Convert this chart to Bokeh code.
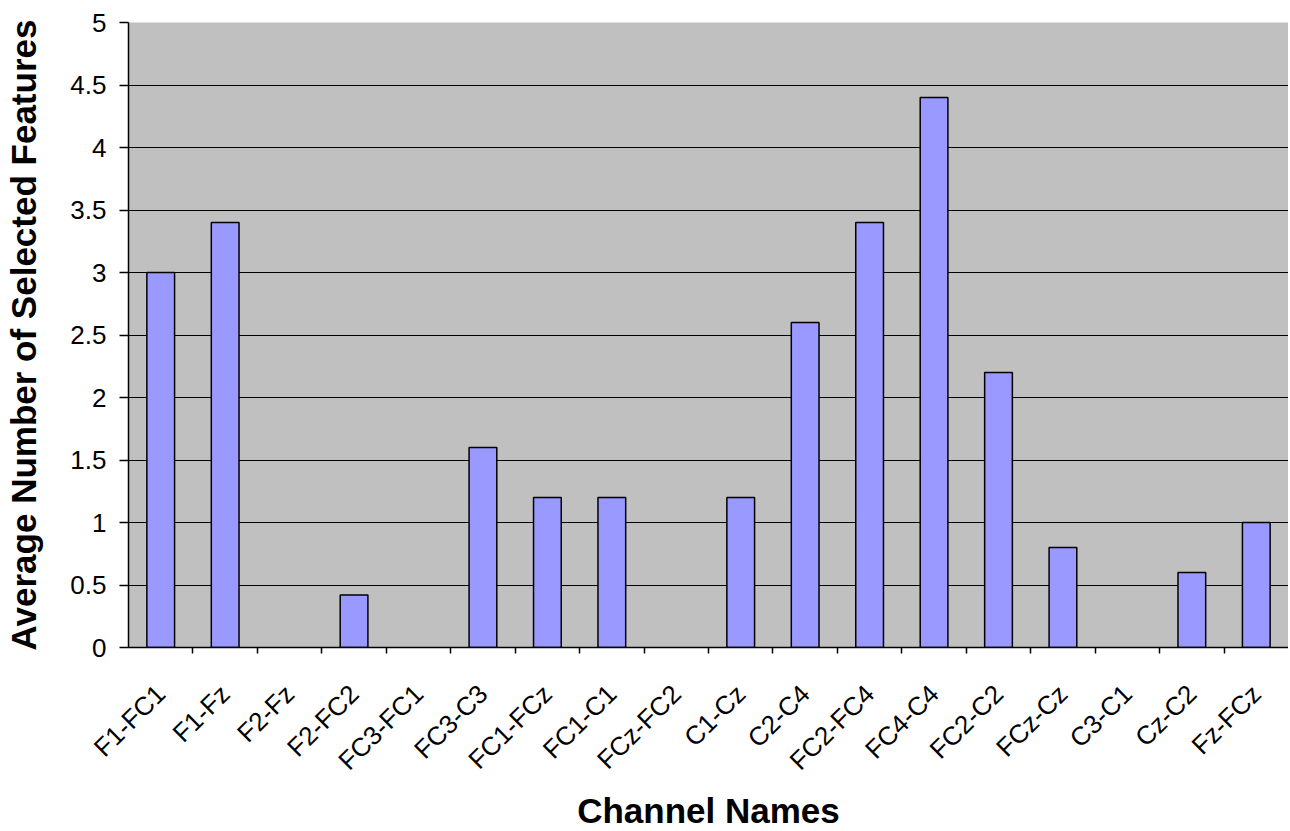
import math
from bokeh.plotting import figure
from bokeh.models import (ColumnDataSource, FactorRange, Range1d,
                          CDSView, BooleanFilter, CategoricalAxis, FixedTicker)
from bokeh.embed import file_html
from bokeh.resources import INLINE

channels = ["F1-FC1", "F1-Fz", "F2-Fz", "F2-FC2", "FC3-FC1", "FC3-C3", "FC1-FCz",
            "FC1-C1", "FCz-FC2", "C1-Cz", "C2-C4", "FC2-FC4", "FC4-C4", "FC2-C2",
            "FCz-Cz", "C3-C1", "Cz-C2", "Fz-FCz"]
avg_features = [3.0, 3.4, 0.0, 0.42, 0.0, 1.6, 1.2, 1.2, 0.0, 1.2, 2.6, 3.4, 4.4,
                2.2, 0.8, 0.0, 0.6, 1.0]
y_ticks = [0, 0.5, 1, 1.5, 2, 2.5, 3, 3.5, 4, 4.5, 5]

src = ColumnDataSource(dict(x=channels, top=avg_features))
view = CDSView(filter=BooleanFilter([v > 0 for v in avg_features]))

p = figure(x_range=FactorRange(*channels, range_padding=0), y_range=Range1d(0, 5),
           frame_width=1160, frame_height=625, output_backend="svg", toolbar_location=None,
           x_axis_location=None,
           min_border_left=128, min_border_top=22, min_border_right=0, min_border_bottom=0)

# boundaries between categories: n+1 factors whose centres fall on the category edges
bounds = ["b%d" % i for i in range(len(channels) + 1)]
p.extra_x_ranges = {"bounds": FactorRange(*bounds, range_padding=-0.5,
                                          range_padding_units="absolute")}

p.vbar(x="x", top="top", width=0.43, source=src, view=view, fill_color="#9999FF",
       line_color="black", line_width=1.5)

p.background_fill_color = "#C0C0C0"
p.border_fill_color = "white"
p.outline_line_color = None

p.xgrid.grid_line_color = None
p.ygrid.grid_line_color = "black"
p.ygrid.grid_line_width = 1.2
p.yaxis.ticker = FixedTicker(ticks=y_ticks)

# tick-only axis: ticks at category boundaries
tick_axis = CategoricalAxis(x_range_name="bounds")
tick_axis.axis_line_color = "black"
tick_axis.axis_line_width = 1.5
tick_axis.major_tick_line_color = "black"
tick_axis.major_tick_line_width = 1.5
tick_axis.major_tick_out = 6
tick_axis.major_tick_in = 0
tick_axis.minor_tick_line_color = None
tick_axis.major_label_text_font_size = "0px"
tick_axis.major_label_text_color = None
tick_axis.major_label_standoff = 0
p.add_layout(tick_axis, "below")

# label axis
cat_axis = CategoricalAxis()
cat_axis.axis_line_color = None
cat_axis.major_tick_line_color = None
cat_axis.minor_tick_line_color = None
cat_axis.major_label_orientation = math.pi / 4
cat_axis.major_label_standoff = 30
cat_axis.axis_label = "Channel Names"
cat_axis.axis_label_standoff = 2
p.add_layout(cat_axis, "below")

for ax in (cat_axis, p.yaxis[0]):
    ax.major_label_text_font = "Liberation Sans"
    ax.major_label_text_font_size = "26px"
    ax.major_label_text_color = "black"
    ax.axis_label_text_font = "Liberation Sans"
    ax.axis_label_text_font_style = "bold"
    ax.axis_label_text_font_size = "35px"
    ax.axis_label_text_color = "black"

ya = p.yaxis[0]
ya.axis_line_color = "black"
ya.axis_line_width = 1.5
ya.major_tick_line_color = "black"
ya.major_tick_line_width = 1.5
ya.minor_tick_line_color = None
ya.major_tick_out = 9
ya.major_tick_in = 0
ya.major_label_standoff = 13
ya.axis_label = "Average Number of Selected Features"
ya.axis_label_standoff = 24

open("out.html", "w").write(file_html(p, INLINE))
